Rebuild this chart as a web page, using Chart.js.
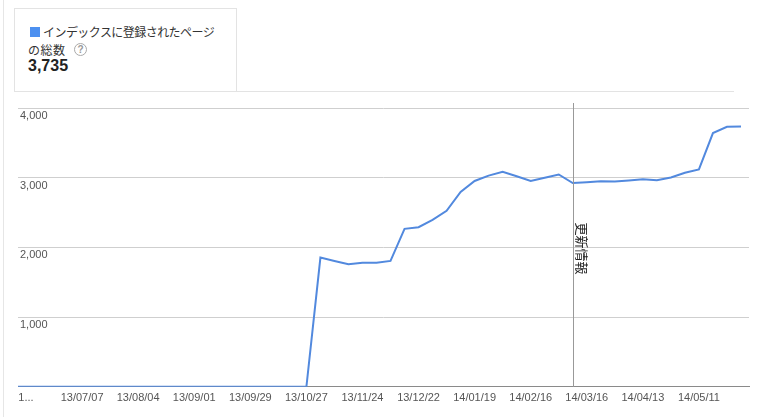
<!DOCTYPE html>
<html>
<head>
<meta charset="utf-8">
<script src="https://cdn.jsdelivr.net/npm/chart.js@4/dist/chart.umd.min.js"></script>
<style>
  html, body { margin: 0; padding: 0; background: #fff; }
  body { width: 765px; height: 417px; position: relative; overflow: hidden; font-family: "Liberation Sans", Arial, sans-serif; }
  #pageline { position: absolute; left: 3px; top: 0; width: 1px; height: 417px; background: #e6e6e6; }
  #box { position: absolute; left: 14px; top: 8px; width: 221px; height: 83px; border: 1px solid #e3e3e3; border-bottom: none; }
  #sep { position: absolute; left: 14px; top: 91px; width: 720px; height: 1px; background: #e3e3e3; }
  #legsq { position: absolute; left: 30px; top: 27px; width: 10px; height: 10px; background: #4d90f0; }
  #legtxt { position: absolute; left: 43px; top: 24px; font-family: "Noto Sans CJK JP", sans-serif; font-size: 12px; letter-spacing: -0.55px; line-height: 16px; color: #333; white-space: nowrap; }
  #legtxt2 { position: absolute; left: 28px; top: 42px; font-family: "Noto Sans CJK JP", sans-serif; font-size: 12px; letter-spacing: 0.5px; line-height: 16px; color: #333; white-space: nowrap; }
  #help { position: absolute; left: 74px; top: 43px; width: 11px; height: 11px; border: 1.3px solid #aaa; border-radius: 50%; color: #999; font-size: 10px; line-height: 11px; text-align: center; font-weight: bold; }
  #total { position: absolute; left: 28px; top: 57px; font-size: 16px; font-weight: bold; color: #222; line-height: 18px; }
  canvas { position: absolute; left: 0; top: 0; }
</style>
</head>
<body>
<div id="pageline"></div>
<div id="box"></div>
<div id="sep"></div>
<div id="legsq"></div>
<div id="legtxt">インデックスに登録されたページ</div>
<div id="legtxt2">の総数</div>
<div id="help">?</div>
<div id="total">3,735</div>
<canvas id="c" width="765" height="417"></canvas>
<script>
// ---- data ----
const dates = [
  '2013-06-05',
  '2013-06-09','2013-06-16','2013-06-23','2013-06-30','2013-07-07','2013-07-14','2013-07-21','2013-07-28',
  '2013-08-04','2013-08-11','2013-08-18','2013-08-25','2013-09-01','2013-09-08','2013-09-15','2013-09-22',
  '2013-09-29','2013-10-06','2013-10-13','2013-10-20','2013-10-27','2013-11-03','2013-11-10','2013-11-17',
  '2013-11-24','2013-12-01','2013-12-08','2013-12-15','2013-12-22','2013-12-29','2014-01-05','2014-01-12',
  '2014-01-19','2014-01-26','2014-02-02','2014-02-09','2014-02-16','2014-02-23','2014-03-02','2014-03-09',
  '2014-03-16','2014-03-23','2014-03-30','2014-04-06','2014-04-13','2014-04-20','2014-04-27','2014-05-04',
  '2014-05-11','2014-05-18','2014-05-25','2014-06-01'
];
const indexedPages = [
  0,
  0,0,0,0,0,0,0,0,
  0,0,0,0,0,0,0,0,
  0,0,0,0,0,1854,1805,1758,
  1778,1781,1806,2266,2290,2396,2525,2795,
  2953,3030,3085,3020,2953,3000,3046,2924,
  2935,2949,2945,2960,2978,2964,3003,3070,
  3118,3640,3730,3735
];
const xTickDates = ['2013-06-09','2013-07-07','2013-08-04','2013-09-01','2013-09-29','2013-10-27','2013-11-24',
  '2013-12-22','2014-01-19','2014-02-16','2014-03-16','2014-04-13','2014-05-11'];
const xTickLabels = ['1...','13/07/07','13/08/04','13/09/01','13/09/29','13/10/27','13/11/24',
  '13/12/22','14/01/19','14/02/16','14/03/16','14/04/13','14/05/11'];
const yTickValues = [0, 1000, 2000, 3000, 4000];
const yTickLabels = ['', '1,000', '2,000', '3,000', '4,000'];
const axisStart = '2013-06-05';
const axisEnd = '2014-06-05';
const annotationDate = '2014-03-09';
const annotationLabel = '更新情報';

// ---- helpers ----
const base = Date.parse('2013-10-27T00:00:00Z');
const dayOf = d => Math.round((Date.parse(d + 'T00:00:00Z') - base) / 86400000);
const points = dates.map((d, i) => ({ x: dayOf(d), y: indexedPages[i] }));

const annotationPlugin = {
  id: 'annot',
  afterDatasetsDraw(chart) {
    const { ctx, chartArea, scales } = chart;
    const x = Math.round(scales.x.getPixelForValue(dayOf(annotationDate))) + 0.5;
    ctx.save();
    ctx.strokeStyle = '#999';
    ctx.lineWidth = 1;
    ctx.beginPath();
    ctx.moveTo(x, chartArea.top - 5);
    ctx.lineTo(x, chartArea.bottom);
    ctx.stroke();
    ctx.translate(x + 8, (chartArea.top + chartArea.bottom) / 2 + 1);
    ctx.rotate(Math.PI / 2);
    ctx.fillStyle = '#222';
    ctx.font = '13px "Noto Sans CJK JP"';
    ctx.textAlign = 'center';
    ctx.textBaseline = 'middle';
    ctx.fillText(annotationLabel, 0, 0);
    ctx.restore();
  }
};

new Chart(document.getElementById('c'), {
  type: 'line',
  data: {
    datasets: [{
      data: points,
      borderColor: '#5289de',
      borderWidth: 2,
      pointRadius: 0,
      fill: false,
      tension: 0
    }]
  },
  options: {
    responsive: false,
    animation: false,
    layout: { padding: { left: 14, right: 16, top: 108, bottom: 7 } },
    plugins: { legend: { display: false }, tooltip: { enabled: false } },
    scales: {
      x: {
        type: 'linear',
        min: dayOf(axisStart),
        max: dayOf(axisEnd),
        afterBuildTicks: s => { s.ticks = xTickDates.map(d => ({ value: dayOf(d) })); },
        grid: { display: false, drawTicks: false },
        border: { display: true, color: '#8a8a8a', width: 1 },
        ticks: {
          autoSkip: false, maxRotation: 0, minRotation: 0, padding: 5,
          color: '#555',
          font: { family: '"Liberation Sans", Arial', size: 11 },
          callback: (v, i) => xTickLabels[i]
        }
      },
      y: {
        min: 0, max: 4000,
        afterBuildTicks: s => { s.ticks = yTickValues.map(v => ({ value: v })); },
        grid: { color: '#cfcfcf', drawTicks: false },
        border: { display: false },
        ticks: {
          mirror: true, padding: 2, labelOffset: 8,
          color: '#555',
          font: { family: '"Liberation Sans", Arial', size: 11 },
          callback: (v, i) => yTickLabels[i]
        }
      }
    }
  },
  plugins: [annotationPlugin]
});
</script>
</body>
</html>
